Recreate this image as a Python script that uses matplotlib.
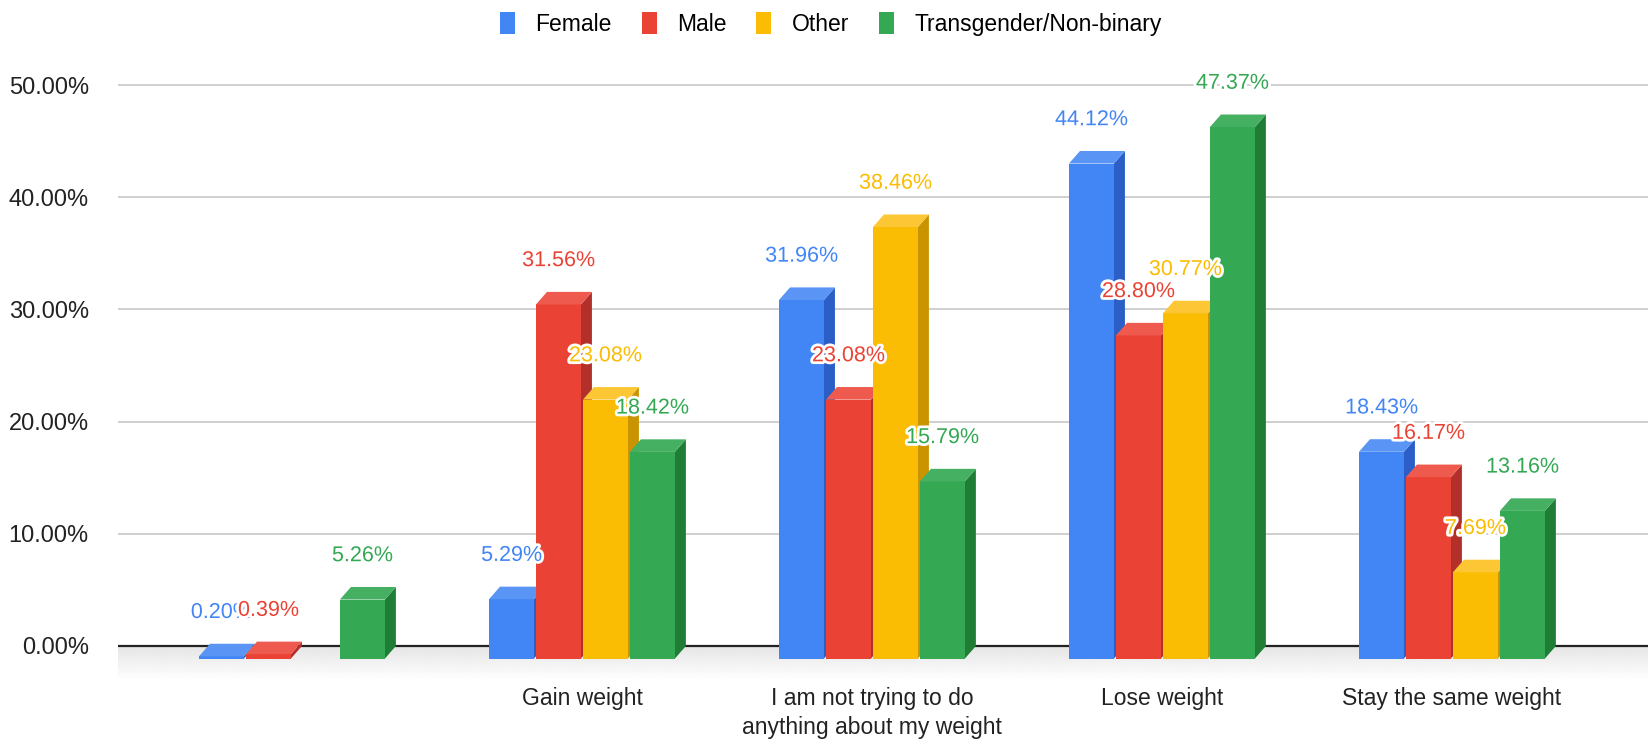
import matplotlib
matplotlib.use("Agg")
import matplotlib.pyplot as plt
import numpy as np
from matplotlib.patches import Polygon, Patch
import matplotlib.patheffects as pe

# ------------------------------------------------------------------ dados
categorias = ["", "Gain weight", "I am not trying to do\nanything about my weight",
              "Lose weight", "Stay the same weight"]
series = ["Female", "Male", "Other", "Transgender/Non-binary"]
female = [0.20, 5.29, 31.96, 44.12, 18.43]
male = [0.39, 31.56, 23.08, 28.80, 16.17]
other = [np.nan, 23.08, 38.46, 30.77, 7.69]
trans = [5.26, 18.42, 15.79, 47.37, 13.16]
yticks = [0, 10, 20, 30, 40, 50]

# ------------------------------------------------------------------ estilo
cores = ["#4285F4", "#EA4335", "#FBBC04", "#34A853"]
lados = ["#2B5FC7", "#B3302A", "#C99400", "#1F7D36"]
topos = ["#5A95F5", "#EE5A4E", "#FCC634", "#45B062"]
plt.rcParams["font.family"] = ["Liberation Sans", "DejaVu Sans"]

W, H = 1648, 741
fig = plt.figure(figsize=(W / 100, H / 100), dpi=100)
y_min, y_max = -3, 52
px_por_pct = 11.22
x_min, x_max = -0.6, 4.676
zero_px = 646  # linha do zero, a partir do topo
ax_bottom = H - (zero_px - y_min * px_por_pct)
ax_h = (y_max - y_min) * px_por_pct
ax = fig.add_axes([118 / W, ax_bottom / H, (W - 118) / W, ax_h / H])
for s in ax.spines.values():
    s.set_visible(False)

# piso sombreado abaixo do zero
grad = np.zeros((50, 2, 4))
grad[..., :3] = 0.80
grad[..., 3] = np.linspace(0.5, 0.0, 50)[:, None]
ax.imshow(grad, extent=[x_min - 0.1, x_max, -3, 0], aspect="auto", zorder=0,
          interpolation="bilinear")
ax.set_xlim(x_min, x_max)
ax.set_ylim(y_min, y_max)

# grade
for v in yticks[1:]:
    ax.plot([x_min, x_max], [v, v], color="#cccccc", lw=1.3, zorder=1)
ax.plot([x_min, x_max], [0, 0], color="#222222", lw=1.6, zorder=1)

# barras 3D
larg = 0.155
passo = 0.162
desloc = -0.3207
dx = 0.038
dy = 1.12

valores = [female, male, other, trans]
for i in range(len(categorias)):
    for j, vals in enumerate(valores):
        v = vals[i]
        if np.isnan(v):
            continue
        x0 = i + desloc + j * passo
        x1 = x0 + larg
        frente = Polygon([(x0, -dy), (x1, -dy), (x1, v - dy), (x0, v - dy)],
                         closed=True, fc=cores[j], ec="none", zorder=3)
        lado = Polygon([(x1, -dy), (x1 + dx, 0), (x1 + dx, v), (x1, v - dy)],
                       closed=True, fc=lados[j], ec="none", zorder=3)
        topo = Polygon([(x0, v - dy), (x1, v - dy), (x1 + dx, v), (x0 + dx, v)],
                       closed=True, fc=topos[j], ec="none", zorder=3)
        for p in (lado, frente, topo):
            p.set_clip_on(False)
            ax.add_patch(p)

# rótulos de valor
for i in range(len(categorias)):
    for j, vals in enumerate(valores):
        v = vals[i]
        if np.isnan(v):
            continue
        xc = i + desloc + j * passo + larg / 2
        ax.text(xc, v + 1.85, f"{v:.2f}%", ha="center", va="bottom",
                fontsize=15.5, color=cores[j], zorder=10 + j,
                path_effects=[pe.withStroke(linewidth=4, foreground="white")])

# eixos
ax.set_yticks(yticks)
ax.set_yticklabels([f"{v:.2f}%" for v in yticks], fontsize=17, color="#222222")
ax.set_xticks(range(len(categorias)))
ax.set_xticklabels(categorias, fontsize=16.5, color="#222222", linespacing=1.35)
ax.tick_params(axis="y", length=0, pad=21)
ax.tick_params(axis="x", length=0, pad=5)

# legenda
handles = [Patch(facecolor=c, edgecolor="none") for c in cores]
fig.legend(handles, series, loc="center", bbox_to_anchor=(831 / W, 1 - 24 / H),
           ncol=4, frameon=False, fontsize=16.5, handlelength=0.65,
           handleheight=1.1, handletextpad=0.9, columnspacing=1.3)

fig.savefig("out.png", dpi=100, facecolor="white")
